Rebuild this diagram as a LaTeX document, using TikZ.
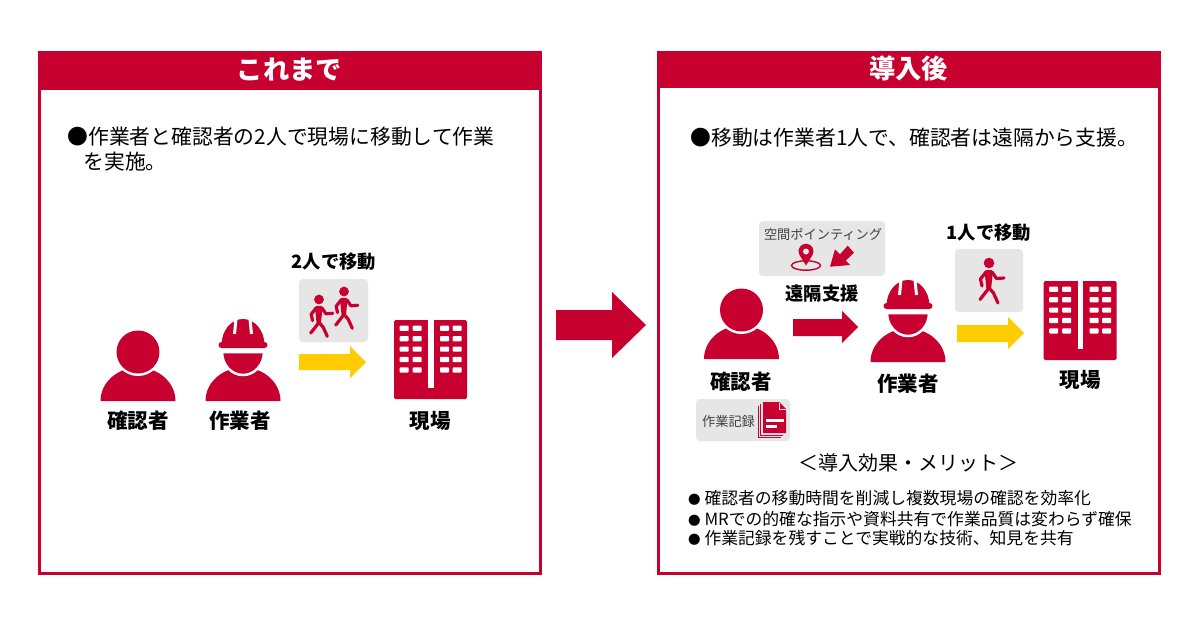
\documentclass[tikz,border=0pt]{standalone}
\usepackage{fontspec}
\setmainfont{Noto Sans CJK JP}
\definecolor{akaRed}{HTML}{C8002F}
\definecolor{kiiro}{HTML}{FFCC00}
\definecolor{haiiro}{HTML}{E6E6E6}
\newcommand{\meritdot}{\makebox[16.5pt][l]{\fontsize{12.5}{12.5}\selectfont ●}}
\tikzset{
  frameline/.style={draw=akaRed, line width=3pt},
  headband/.style={fill=akaRed},
  greybox/.style={fill=haiiro, rounded corners=4pt},
  title/.style={text=white, font=\fontsize{26.3}{26.3}\selectfont\bfseries},
  body/.style={anchor=west, font=\fontsize{20.8}{20.8}\selectfont},
  small/.style={anchor=west, font=\fontsize{16.8}{16.8}\selectfont},
  who/.style={font=\fontsize{20.5}{20.5}\selectfont\bfseries},
  move/.style={font=\fontsize{18.3}{18.3}\selectfont\bfseries},
  tag/.style={text=black!75, font=\fontsize{13.2}{13.2}\selectfont},
  personicon/.pic={
    \fill[akaRed] (-37.5,49) arc[start angle=180, end angle=360, x radius=37.5, y radius=33.5] -- cycle;
    \fill[white] (0,0) circle (24);
    \fill[akaRed] (0,0) circle (21.5);
  },
  workericon/.pic={
    \fill[akaRed] (-37.5,56) arc[start angle=180, end angle=360, x radius=37.5, y radius=33.5] -- cycle;
    \fill[akaRed, draw=white, line width=2.5pt] (-21,7) -- (21,7) arc[start angle=0, end angle=180, x radius=21, y radius=23] -- cycle;
    \fill[akaRed] (-21.5,0) arc[start angle=180, end angle=360, x radius=21.5, y radius=26] -- cycle;
    \fill[akaRed, rounded corners=3pt] (-24.5,-3) rectangle (24.5,3);
    \draw[white, line width=3pt] (-7,-26) -- (-8.5,-11);
    \draw[white, line width=3pt] (7,-26) -- (8.5,-11);
  },
  walkericon/.pic={
    \fill[akaRed] (0,0) circle (5.3);
    \fill[akaRed, rounded corners=1.5pt] (-4.5,7) -- (4,7) -- (2,27) -- (-2.5,27) -- cycle;
    \draw[akaRed, line width=3.2pt, line cap=round, line join=round]
      (0,25) -- (-9,36.5)
      (0,25) -- (4.5,30) -- (9,40)
      (-7,23) -- (-8.5,16) -- (-3,9)
      (3,9) -- (7.5,15.5) -- (15,15);
  },
  buildingicon/.pic={
    \fill[akaRed, rounded corners=1.5pt] (0,0) rectangle (73,79);
    \fill[white] (34,-0.5) rectangle (39.5,68);
    \foreach \wy in {5.7,16.1,26.5,36.9,47.3}
      \foreach \wx in {5.7,18.7,46,58.7}
        \fill[white, rounded corners=0.8pt] (\wx,\wy) rectangle ++(9,5.2);
  },
}
\begin{document}
\begin{tikzpicture}[x=1pt, y=-1pt]
  \useasboundingbox (0,0) rectangle (1200,635);
  \fill[white] (0,0) rectangle (1200,635);

  % left panel
  \draw[frameline] (39.5,52.5) rectangle (540,573.5);
  \fill[headband] (38,51) rectangle (541.5,90);
  \node[title] (leftTitle) at (289.5,69.5) {これまで};
  \node[body] (leftLineA) at (64,136.5) {●作業者と確認者の2人で現場に移動して作業};
  \node[body] (leftLineB) at (80,161.5) {を実施。};

  \pic at (138,352) {personicon};
  \pic at (243,345) {workericon};
  \node[who] (leftChecker) at (138,421) {確認者};
  \node[who] (leftWorker) at (240,421) {作業者};

  \node[move] (leftMove) at (334,262) {2人で移動};
  \fill[greybox] (299,279) rectangle (368,342);
  \pic[scale=0.92] at (319,299.5) {walkericon};
  \pic[scale=0.92] at (344,291.5) {walkericon};
  \fill[kiiro] (299,354) -- (350,354) -- (350,346) -- (366,362) -- (350,378) -- (350,370) -- (299,370) -- cycle;

  \pic at (394,320) {buildingicon};
  \node[who] (leftSite) at (430,421) {現場};

  % big arrow
  \fill[akaRed] (556,310) -- (612,310) -- (612,292) -- (646,325) -- (612,358) -- (612,340) -- (556,340) -- cycle;

  % right panel
  \draw[frameline] (658.5,52.5) rectangle (1159,573.5);
  \fill[headband] (657,51) rectangle (1160.5,88);
  \node[title] (rightTitle) at (908.5,68.5) {導入後};
  \node[body] (rightLine) at (687,138) {●移動は作業者1人で、確認者は遠隔から支援。};

  \pic at (741.5,310) {personicon};
  \pic at (908,306) {workericon};
  \node[who] (rightChecker) at (741,382) {確認者};
  \node[who] (rightWorker) at (908,384) {作業者};

  % pointing box
  \fill[greybox] (759,221) rectangle (885,276);
  \node[tag] (pointTag) at (823,234) {空間ポインティング};
  \draw[akaRed, line width=1.4pt] (806,265.5) ellipse (14.5 and 4.7);
  \fill[akaRed] (806,265.5) -- (799.5,255) arc[start angle=150, end angle=390, radius=7.5] -- cycle;
  \fill[haiiro] (806,251.5) circle (3);
  \fill[akaRed] (830,266.7) -- (835,249.3) -- (840,254.3) -- (847.7,245.7) -- (854,252.7) -- (845.7,260.7) -- (850,265) -- cycle;

  \node[move] (supportLabel) at (822,294) {遠隔支援};
  \fill[akaRed] (793,319) -- (842,319) -- (842,311) -- (858,327) -- (842,343) -- (842,336) -- (793,336) -- cycle;

  % record box
  \fill[greybox] (696,399) rectangle (790,441);
  \node[tag] (recordTag) at (728.5,421) {作業記録};
  \draw[akaRed, line width=0.8pt] (758.5,405.5) -- (758.5,437) -- (781,437);
  \draw[akaRed, line width=0.8pt] (760.5,404) -- (760.5,435) -- (783,435);
  \fill[akaRed] (763,402) -- (779,402) -- (786,409) -- (786,433) -- (763,433) -- cycle;
  \draw[haiiro, line width=0.8pt] (779,402.5) -- (779,409) -- (785.5,409);
  \draw[white, line width=2.5pt] (766,420.5) -- (784,420.5);
  \draw[white, line width=2.5pt] (766,426.5) -- (777,426.5);

  % one person moving
  \node[move] (rightMove) at (989,233) {1人で移動};
  \fill[greybox] (955,249) rectangle (1023,312);
  \pic at (989,263) {walkericon};
  \fill[kiiro] (957,325) -- (1008,325) -- (1008,317) -- (1024,333) -- (1008,349) -- (1008,342) -- (957,342) -- cycle;

  \pic at (1043.5,281) {buildingicon};
  \node[who] (rightSite) at (1080,380) {現場};

  % merits
  \node[font=\fontsize{20}{20}\selectfont] (meritHead) at (908,462.5) {＜導入効果・メリット＞};
  \node[small] (meritA) at (684.5,498) {\meritdot 確認者の移動時間を削減し複数現場の確認を効率化};
  \node[small] (meritB) at (684.5,519) {\meritdot MRでの的確な指示や資料共有で作業品質は変わらず確保};
  \node[small] (meritC) at (684.5,538) {\meritdot 作業記録を残すことで実戦的な技術、知見を共有};
\end{tikzpicture}
\end{document}
